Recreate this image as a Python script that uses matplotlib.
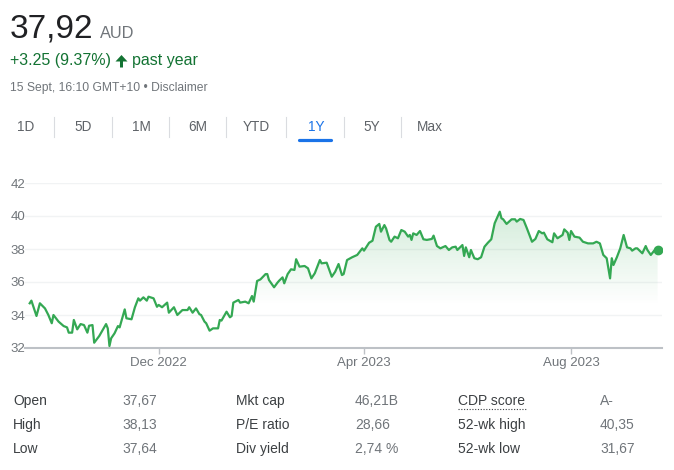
import numpy as np
import pandas as pd
import matplotlib
matplotlib.use("Agg")
import matplotlib.pyplot as plt
import matplotlib.dates as mdates
from matplotlib.lines import Line2D
from matplotlib.patches import Polygon

plt.rcParams['font.family'] = ['Liberation Sans', 'DejaVu Sans']

# price history, days counted from the first point (15 Sep 2022)
start_date = '2022-09-15'
days = [1, 2, 5, 7, 10, 12, 14, 15, 18, 21, 23, 24, 26, 27, 29, 31, 33, 35, 36, 38,
        39, 42, 44, 46, 47, 48, 49, 51, 53, 54, 57, 58, 61, 63, 65, 66, 68, 70, 71, 74,
        76, 77, 79, 82, 83, 86, 88, 91, 94, 95, 97, 99, 101, 102, 104, 105, 107, 109, 112, 113,
        114, 117, 119, 120, 121, 124, 125, 128, 130, 132, 133, 135, 137, 140, 141, 142, 145, 147, 148, 150,
        151, 153, 155, 157, 158, 160, 163, 165, 167, 169, 172, 173, 176, 179, 181, 183, 185, 186, 188, 191,
        194, 197, 198, 201, 203, 205, 207, 208, 210, 211, 213, 214, 216, 218, 220, 222, 224, 225, 226, 227,
        229, 231, 233, 235, 238, 239, 241, 243, 246, 248, 250, 252, 253, 256, 257, 258, 260, 261, 263, 265,
        267, 269, 271, 273, 275, 278, 279, 280, 282, 285, 287, 288, 290, 292, 294, 297, 299, 301, 303, 304,
        306, 309, 310, 312, 315, 316, 318, 319, 320, 322, 325, 327, 330, 333, 335, 337, 339, 341, 343, 344,
        345, 347, 349, 351, 353, 355, 356, 358, 359, 362, 364, 365, 367, 369, 371]
prices = [34.71, 34.87, 33.94, 34.71, 34.40, 34.00, 33.50, 34.00, 33.60, 33.33, 33.25, 32.93, 32.93, 33.70, 33.13, 33.45, 33.39, 32.93, 33.35, 33.39,
          32.32, 32.73, 33.09, 33.45, 33.19, 32.12, 32.59, 32.89, 33.33, 33.25, 34.34, 33.80, 33.74, 34.47, 35.01, 34.87, 35.07, 34.87, 35.11, 35.01,
          34.50, 34.61, 34.47, 34.75, 34.14, 34.47, 34.00, 34.30, 34.30, 34.47, 34.14, 34.40, 34.05, 34.00, 33.60, 33.50, 33.05, 33.19, 33.19, 33.70,
          33.66, 34.20, 33.86, 33.94, 34.75, 34.91, 34.75, 34.81, 34.71, 35.15, 34.81, 36.06, 36.16, 36.48, 36.48, 36.12, 35.68, 35.96, 36.08, 36.28,
          35.92, 36.48, 36.77, 36.73, 37.38, 36.93, 36.97, 36.83, 36.22, 36.53, 37.33, 37.13, 37.17, 36.32, 36.62, 37.09, 36.42, 36.48, 37.33, 37.50,
          37.64, 38.04, 37.90, 38.38, 38.50, 39.35, 39.52, 39.05, 39.45, 39.25, 38.55, 38.44, 38.75, 38.65, 39.15, 39.05, 38.75, 38.85, 38.55, 38.95,
          38.85, 39.09, 38.59, 38.55, 38.61, 38.81, 38.18, 38.04, 38.18, 37.94, 38.10, 38.14, 37.94, 38.24, 37.58, 38.10, 37.50, 37.94, 37.44, 37.38,
          37.50, 38.14, 38.38, 38.59, 39.56, 40.26, 39.86, 39.80, 39.52, 39.80, 39.80, 39.66, 39.82, 39.76, 39.25, 38.44, 38.61, 39.09, 38.95, 38.99,
          38.59, 38.41, 38.95, 38.65, 38.85, 39.19, 38.99, 38.55, 39.09, 38.75, 38.69, 38.44, 38.34, 38.34, 38.44, 38.34, 37.64, 37.44, 36.22, 37.44,
          37.03, 37.50, 38.04, 38.85, 38.10, 38.04, 37.90, 38.04, 38.04, 37.74, 38.18, 37.94, 37.64, 37.90, 37.92]

price_now = '37,92'
currency = 'AUD'
change_text = '+3.25 (9.37%)'
stamp_text = '15 Sept, 16:10 GMT+10 \u2022 Disclaimer'
ranges = ['1D', '5D', '1M', '6M', 'YTD', '1Y', '5Y', 'Max']
active_range = '1Y'
y_ticks = [32, 34, 36, 38, 40, 42]

stat_labels_1 = ['Open', 'High', 'Low']
stat_values_1 = ['37,67', '38,13', '37,64']
stat_labels_2 = ['Mkt cap', 'P/E ratio', 'Div yield']
stat_values_2 = ['46,21B', '28,66', '2,74 %']
stat_labels_3 = ['CDP score', '52-wk high', '52-wk low']
stat_values_3 = ['A-', '40,35', '31,67']

W, H = 674, 470
GREEN = '#34a853'
TEXT_GREEN = '#137333'
GRAY = '#70757a'
DARK = '#3c4043'
BLUE = '#1a73e8'

fig = plt.figure(figsize=(W / 100, H / 100), dpi=100)


def px(x, y):
    return x / W, 1 - y / H


def ftext(x, y, s, **kw):
    fx, fy = px(x, y)
    return fig.text(fx, fy, s, **kw)


# header
ftext(10, 38, price_now, fontsize=24, color='#202124', va='baseline')
ftext(100, 38, currency, fontsize=11.8, color=GRAY, va='baseline')
ftext(10, 61, change_text, fontsize=11.5, color=TEXT_GREEN, va='center')
# solid up arrow
arrow = [px(121.5, 55), px(127.5, 61.5), px(123, 61.5), px(123, 67.5),
         px(120, 67.5), px(120, 61.5), px(115.5, 61.5)]
fig.add_artist(Polygon(arrow, closed=True, color=TEXT_GREEN,
                       transform=fig.transFigure, lw=0))
ftext(132, 61, 'past year', fontsize=11.5, color=TEXT_GREEN, va='center')
ftext(10, 88, stamp_text, fontsize=8.7, color=GRAY, va='center')

# range tabs
tab_x = [26, 83, 141, 198, 256, 316, 372, 430]
sep_x = [54, 112, 169, 226, 286, 344, 401]
for lab, x in zip(ranges, tab_x):
    ftext(x, 127, lab, fontsize=9.8, ha='center', va='center',
          color=BLUE if lab == active_range else '#5f6368')
for x in sep_x:
    fig.add_artist(Line2D([x / W, x / W], [1 - 117 / H, 1 - 137 / H],
                          color='#dadce0', lw=0.8))
fig.add_artist(Line2D([299 / W, 331 / W], [1 - 139.5 / H] * 2, color=BLUE,
                      lw=2.3, solid_capstyle='round'))

# chart
ax = fig.add_axes([25 / W, 1 - 348 / H, 637 / W, 165 / H])
dates = pd.Timestamp(start_date) + pd.to_timedelta(days, unit='D')
xd = mdates.date2num(dates)
x0 = mdates.date2num(pd.Timestamp(start_date)) - 1.77
x1 = mdates.date2num(pd.Timestamp(start_date)) + 373.6

poly = ax.fill_between(xd, prices, 32, color='none', lw=0)
yy = np.linspace(32, 42, 200)
alpha = np.clip((yy - 34.6) / (40.5 - 34.6), 0, 1) * 0.22
grad = np.zeros((200, 1, 4))
grad[:, 0, 0] = 0x34 / 255
grad[:, 0, 1] = 0xa8 / 255
grad[:, 0, 2] = 0x53 / 255
grad[:, 0, 3] = alpha
img = ax.imshow(grad, extent=[xd[0], xd[-1], 32, 42], origin='lower',
                aspect='auto', zorder=1)
img.set_clip_path(poly.get_paths()[0], transform=ax.transData)

ax.plot(xd, prices, color=GREEN, lw=1.6, zorder=3, solid_joinstyle='round')
ax.plot(xd[-1], prices[-1], 'o', color=GREEN, ms=6, zorder=4)

ax.set_xlim(x0, x1)
ax.set_ylim(32, 42)
ax.set_yticks(y_ticks)
ax.grid(axis='y', color='#f1f3f4', lw=1)
ax.set_axisbelow(True)
for s in ['top', 'right', 'left']:
    ax.spines[s].set_visible(False)
ax.spines['bottom'].set_color('#bdc1c6')
ax.spines['bottom'].set_linewidth(1.5)
ax.xaxis.set_major_locator(mdates.MonthLocator(bymonth=[12, 4, 8]))
ax.xaxis.set_major_formatter(mdates.DateFormatter('%b %Y'))
ax.tick_params(axis='x', length=4, width=1, color='#bdc1c6', labelsize=9.5,
               labelcolor=GRAY, pad=2.5)
ax.tick_params(axis='y', length=0, labelsize=9.5, labelcolor=GRAY, pad=0)

# stats table
row_y = [401, 425, 449]
cols = [(13, 122, stat_labels_1, stat_values_1),
        (236, 355, stat_labels_2, stat_values_2),
        (458, 600, stat_labels_3, stat_values_3)]
for lx, vx, labs, vals in cols:
    for y, lab, val in zip(row_y, labs, vals):
        ftext(lx, y, lab, fontsize=10, color=DARK, va='center')
        ftext(vx, y, val, fontsize=10, color=GRAY, va='center')
fig.add_artist(Line2D([458 / W, 526 / W], [1 - 409 / H] * 2, color=DARK,
                      lw=0.8, ls=(0, (1, 1.5))))

fig.savefig('out.png', dpi=100)
